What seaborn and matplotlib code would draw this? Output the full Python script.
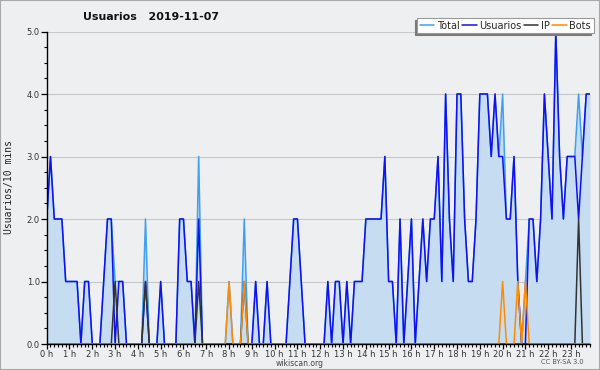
import numpy as np
import pandas as pd
import matplotlib
matplotlib.use("Agg")
import matplotlib.pyplot as plt
from matplotlib.patches import Rectangle
import seaborn as sns

# ---- data (10-minute slots over one day) ----
usuarios = [2,3,2,2,2,1,1,1,1,0,
            1,1,0,0,0,1,2,2,0,1,
            1,0,0,0,0,0,1,0,0,0,
            1,0,0,0,0,2,2,1,1,0,
            2,0,0,0,0,0,0,0,0,0,
            0,0,0,0,0,1,0,0,1,0,
            0,0,0,0,1,2,2,1,0,0,
            0,0,0,0,1,0,1,1,0,1,
            0,1,1,1,2,2,2,2,2,3,
            1,1,0,2,0,1,2,0,1,2,
            1,2,2,3,1,4,2,1,4,4,
            2,1,1,2,4,4,4,3,4,3,
            3,2,2,3,1,0,0,2,2,1,
            2,4,3,2,5,3,2,3,3,3,
            2,3,4,4]
total = [2,3,2,2,2,1,1,1,1,0,
         1,1,0,0,0,1,2,2,1,1,
         1,0,0,0,0,0,2,0,0,0,
         1,0,0,0,0,2,2,1,1,0,
         3,0,0,0,0,0,0,0,1,0,
         0,0,2,0,0,1,0,0,1,0,
         0,0,0,0,1,2,2,1,0,0,
         0,0,0,0,1,0,1,1,0,1,
         0,1,1,1,2,2,2,2,2,3,
         1,1,0,2,0,1,2,0,1,2,
         1,2,2,3,1,4,2,1,4,4,
         2,1,1,2,4,4,4,3,4,3,
         4,2,2,3,1,0,1,2,2,1,
         2,4,3,2,5,3,2,3,3,3,
         4,3,4,4]
ip = [0]*144
for k, v in {18: 1, 26: 1, 40: 1, 52: 1, 140: 2}.items():
    ip[k] = v
bots = [0]*144
for k, v in {48: 1, 52: 1, 120: 1, 124: 1, 126: 1}.items():
    bots[k] = v
hour_labels = [f"{h} h" for h in range(24)]
series_names = ["Total", "Usuarios", "IP", "Bots"]
series_colors = ["#3fa0f0", "#1010f0", "#333333", "#ff8c00"]

slot = np.arange(len(usuarios))
df = pd.DataFrame({"slot": slot, "Total": total, "Usuarios": usuarios,
                   "IP": ip, "Bots": bots})

sns.set_style("ticks")
plt.rcParams["font.family"] = ["DejaVu Sans"]
BG = "#eeeff1"

fig = plt.figure(figsize=(6.0, 3.7), dpi=100, facecolor=BG)
ax = fig.add_axes([46.7/600, 1-344/370, (590-46.7)/600, (344-31.5)/370])
ax.set_facecolor(BG)

ax.fill_between(df["slot"], df["Total"], 0, color="#c6dcf0", lw=0, zorder=1)
handles = []
for name, col in zip(series_names, series_colors):
    sns.lineplot(data=df, x="slot", y=name, color=col, lw=1.1, ax=ax,
                 zorder=3, label=name, legend=False)
    handles.append(ax.lines[-1])

ax.set_xlim(0, len(usuarios)-1)
ax.set_ylim(0, 5)
ax.set_xticks(np.arange(0, 144, 6))
ax.set_xticklabels(hour_labels)
ax.set_xticks(np.arange(0, 144, 1), minor=True)
ax.set_yticks(np.arange(0, 6, 1))
ax.set_yticklabels([f"{v:.1f}" for v in range(6)])
ax.set_yticks(np.arange(0, 5.01, 0.25), minor=True)
ax.tick_params(axis="x", which="major", length=3.5, width=0.9, labelsize=6.0,
               pad=0.5, colors="black", labelcolor="#333333")
ax.tick_params(axis="x", which="minor", length=2.5, width=0.8, colors="black")
ax.tick_params(axis="y", which="major", length=4, width=0.9, labelsize=6.0,
               pad=1, colors="black", labelcolor="#333333")
ax.tick_params(axis="y", which="minor", length=2.5, width=0.8, colors="black")
ax.grid(axis="y", which="major", color="#c8c8c8", lw=0.8, zorder=0)
ax.set_axisbelow(True)
for s in ["top", "right"]:
    ax.spines[s].set_visible(False)
for s in ["left", "bottom"]:
    ax.spines[s].set_color("black")
    ax.spines[s].set_linewidth(1.0)
    ax.spines[s].set_zorder(5)
ax.set_xlabel("")
ax.set_ylabel("")

leg = fig.legend(handles=handles, labels=series_names, ncol=4,
                 loc="upper right", bbox_to_anchor=(593.5/600, 1-18.3/370),
                 bbox_transform=fig.transFigure, fontsize=7, frameon=True,
                 fancybox=False, borderpad=0.25, borderaxespad=0,
                 handlelength=1.5, handletextpad=0.3, columnspacing=0.2,
                 shadow={"ox": -1.6, "oy": -1.3, "facecolor": "#7a7a7a",
                         "edgecolor": "#7a7a7a", "alpha": 1})
leg.get_frame().set_facecolor("white")
leg.get_frame().set_edgecolor("#999999")
leg.get_frame().set_linewidth(0.8)
leg.get_frame().set_alpha(1)

fig.text(151/600, 1-16.5/370, "Usuarios   2019-11-07", ha="center", va="center",
         fontsize=7.9, fontweight="bold", color="#111111")
fig.text(9/600, 1-187/370, "Usuarios/10 mins", rotation=90, ha="center",
         va="center", fontsize=7, family="DejaVu Sans Mono", color="#222222")
fig.text(300/600, 1-363.5/370, "wikiscan.org", ha="center", va="center",
         fontsize=5.5, color="#444444")
fig.text(562/600, 1-362.5/370, "CC BY-SA 3.0", ha="center", va="center",
         fontsize=4.8, color="#555555")
fig.patches.append(Rectangle((0, 0), 1, 1, transform=fig.transFigure,
                             fill=False, edgecolor="#a8a8a8", lw=1.5))

fig.savefig("out.png", dpi=100, facecolor=BG)
